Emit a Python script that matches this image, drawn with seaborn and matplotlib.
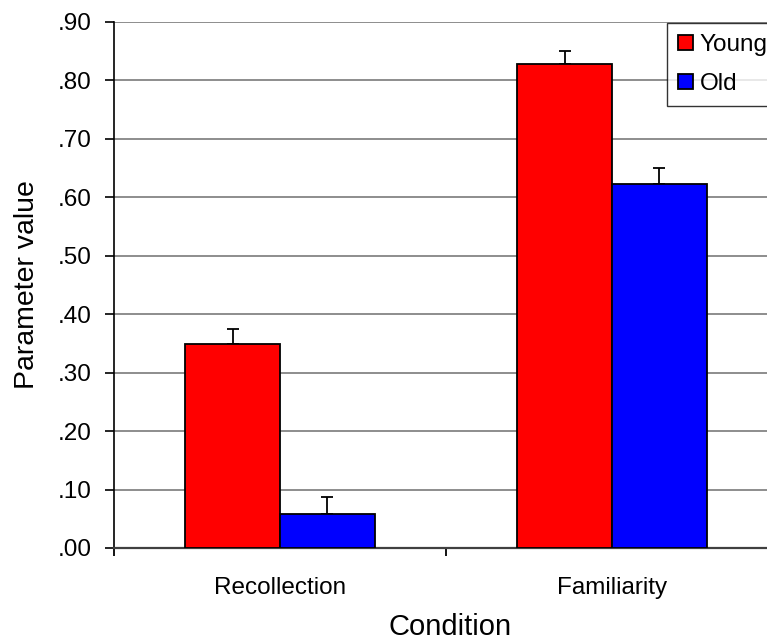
import matplotlib
matplotlib.use("Agg")
import matplotlib.pyplot as plt
import seaborn as sns
import pandas as pd
import numpy as np
from matplotlib.ticker import FuncFormatter, FixedLocator

conditions = ["Recollection", "Familiarity"]
groups = ["Young", "Old"]
young_vals = [0.349, 0.828]
old_vals = [0.059, 0.623]
young_err = [0.026, 0.022]
old_err = [0.028, 0.028]
yticks = [0.0, 0.1, 0.2, 0.3, 0.4, 0.5, 0.6, 0.7, 0.8, 0.9]

df = pd.DataFrame({
    "Condition": conditions * 2,
    "Group": ["Young"] * 2 + ["Old"] * 2,
    "value": young_vals + old_vals,
    "err": young_err + old_err,
})

sns.set_style("white")
plt.rcParams["font.family"] = ["Liberation Sans", "DejaVu Sans"]
plt.rcParams["text.color"] = "black"
plt.rcParams["axes.labelcolor"] = "black"
plt.rcParams["xtick.color"] = "black"
plt.rcParams["ytick.color"] = "black"

fig = plt.figure(figsize=(7.67, 6.43), dpi=100)
ax = fig.add_axes([114 / 767, 1 - 548 / 643, 664 / 767, 526 / 643])

sns.barplot(data=df, x="Condition", y="value", hue="Group", order=conditions,
            hue_order=groups, palette={"Young": "#ff0000", "Old": "#0000ff"},
            width=0.572, edgecolor="black", linewidth=1.3, errorbar=None,
            saturation=1, ax=ax, zorder=3)

# error bars (upper only)
for cont, g in zip(ax.containers, groups):
    sub = df[df["Group"] == g].set_index("Condition").loc[conditions]
    xs = [p.get_x() + p.get_width() / 2 for p in cont.patches]
    ax.errorbar(xs, sub["value"].values,
                yerr=[np.zeros(len(xs)), sub["err"].values],
                fmt="none", ecolor="black", elinewidth=1.3, capsize=4.5,
                capthick=1.3, zorder=2)

ax.set_xlim(-0.5, 1.5)
ax.set_ylim(0, 0.9)
ax.yaxis.set_major_locator(FixedLocator(yticks))
ax.yaxis.set_major_formatter(FuncFormatter(lambda v, p: f"{v:.2f}"[1:] if v < 1 else f"{v:.2f}"))
ax.grid(axis="y", color="#7a7a7a", linewidth=1.2, zorder=0)
ax.set_axisbelow(True)

for s in ["top", "right"]:
    ax.spines[s].set_visible(False)
ax.spines["left"].set_color("black")
ax.spines["left"].set_linewidth(1.2)
ax.spines["bottom"].set_color("#404040")
ax.spines["bottom"].set_linewidth(1.6)

ax.tick_params(axis="y", which="major", direction="out", length=6.5, width=1.2,
               color="black", labelsize=17.5, pad=9.5, left=True)
ax.tick_params(axis="x", which="major", length=0, labelsize=17.5, pad=21)
ax.set_xticks([-0.5, 0.5, 1.5], minor=True)
ax.tick_params(axis="x", which="minor", direction="out", length=6, width=1.3,
               color="black", bottom=True)

ax.set_xlabel("Condition", fontsize=21)
ax.set_ylabel("Parameter value", fontsize=20.5, labelpad=13)
ax.xaxis.set_label_coords((450 - 114) / 664, -(613 - 548) / 526)

leg = ax.legend(loc="upper left", bbox_to_anchor=(667 / 767, 1 - 23 / 643),
                bbox_transform=fig.transFigure, borderaxespad=0, frameon=True,
                fancybox=False, edgecolor="black", fontsize=17.5,
                handlelength=0.6, handleheight=0.6, handletextpad=0.3,
                labelspacing=0.7, borderpad=0.45, title=None)
leg.get_frame().set_linewidth(1.0)

fig.savefig("out.png", dpi=100)
